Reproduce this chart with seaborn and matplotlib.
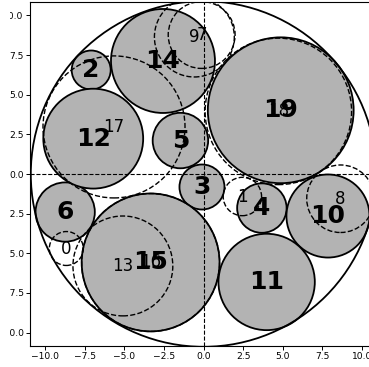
import matplotlib
matplotlib.use("Agg")
import matplotlib.pyplot as plt
import seaborn as sns
from matplotlib.patches import Circle
from matplotlib.transforms import Bbox

# Filled circles (bold labels)
solid_ids = [2, 3, 4, 5, 6, 10, 11, 12, 14, 15, 19]
solid_x = [-7.09, -0.10, 3.68, -1.46, -8.73, 7.85, 3.98, -6.96, -2.56, -3.34, 4.87]
solid_y = [6.56, -0.82, -2.15, 2.11, -2.40, -2.65, -6.81, 2.23, 7.13, -5.58, 4.02]
solid_r = [1.23, 1.42, 1.56, 1.75, 1.87, 2.62, 3.04, 3.15, 3.28, 4.35, 4.60]

# Dashed circles (thin labels)
dashed_ids = [0, 1, 7, 8, 9, 13, 16, 17, 18]
dashed_x = [-8.66, 2.45, -0.12, 8.64, -0.58, -5.09, -3.34, -5.65, 4.72]
dashed_y = [-4.70, -1.42, 8.77, -1.56, 8.64, -5.80, -5.58, 2.97, 3.95]
dashed_r = [1.07, 1.21, 2.11, 2.13, 2.52, 3.15, 4.35, 4.48, 4.62]

# Enclosing circle
outer_r = 10.9

ticks = [-10.0, -7.5, -5.0, -2.5, 0.0, 2.5, 5.0, 7.5, 10.0]


def draw_circles():
    sns.set_theme(style="ticks")
    plt.rcParams["font.family"] = ["DejaVu Sans"]
    plt.rcParams["text.color"] = "black"
    plt.rcParams["xtick.color"] = "black"
    plt.rcParams["ytick.color"] = "black"

    fig = plt.figure(figsize=(3.69, 3.67), dpi=100)
    ax = fig.add_axes([30 / 369, 21 / 367, 347.1 / 369, 344 / 367])

    for cid, x, y, r in zip(solid_ids, solid_x, solid_y, solid_r):
        ax.add_patch(Circle((x, y), r, facecolor="0.7", edgecolor="black", lw=1.3, zorder=2))
        ax.text(x, y, str(cid), ha="center", va="center", fontsize=18,
                fontweight="bold", color="black", zorder=5)

    for cid, x, y, r in zip(dashed_ids, dashed_x, dashed_y, dashed_r):
        ax.add_patch(Circle((x, y), r, fill=False, edgecolor="black", lw=1.0,
                            ls="--", zorder=3))
        ax.text(x, y, str(cid), ha="center", va="center", fontsize=12,
                color="black", zorder=4)

    ax.add_patch(Circle((0, 0), outer_r, fill=False, edgecolor="black", lw=1.3, zorder=3))

    ax.axhline(0, color="black", ls="--", lw=0.8, zorder=6)
    ax.axvline(0, color="black", ls="--", lw=0.8, zorder=6)

    ax.set_xlim(-10.95, 10.95)
    ax.set_ylim(-10.85, 10.85)
    ax.set_xticks(ticks)
    ax.set_yticks(ticks)
    ax.tick_params(labelsize=6.6, length=3, width=0.7, pad=1.5,
                   colors="black", labelcolor="black")
    for sp in ax.spines.values():
        sp.set_linewidth(0.8)
        sp.set_color("black")

    # left edge of the picture cuts the y tick labels
    clip = Bbox.from_extents(9.5, 0, 369, 367)
    for tick in ax.yaxis.get_major_ticks():
        tick.label1.set_clip_on(True)
        tick.label1.set_clip_box(clip)

    fig.savefig("out.png", dpi=100)


if __name__ == "__main__":
    draw_circles()
